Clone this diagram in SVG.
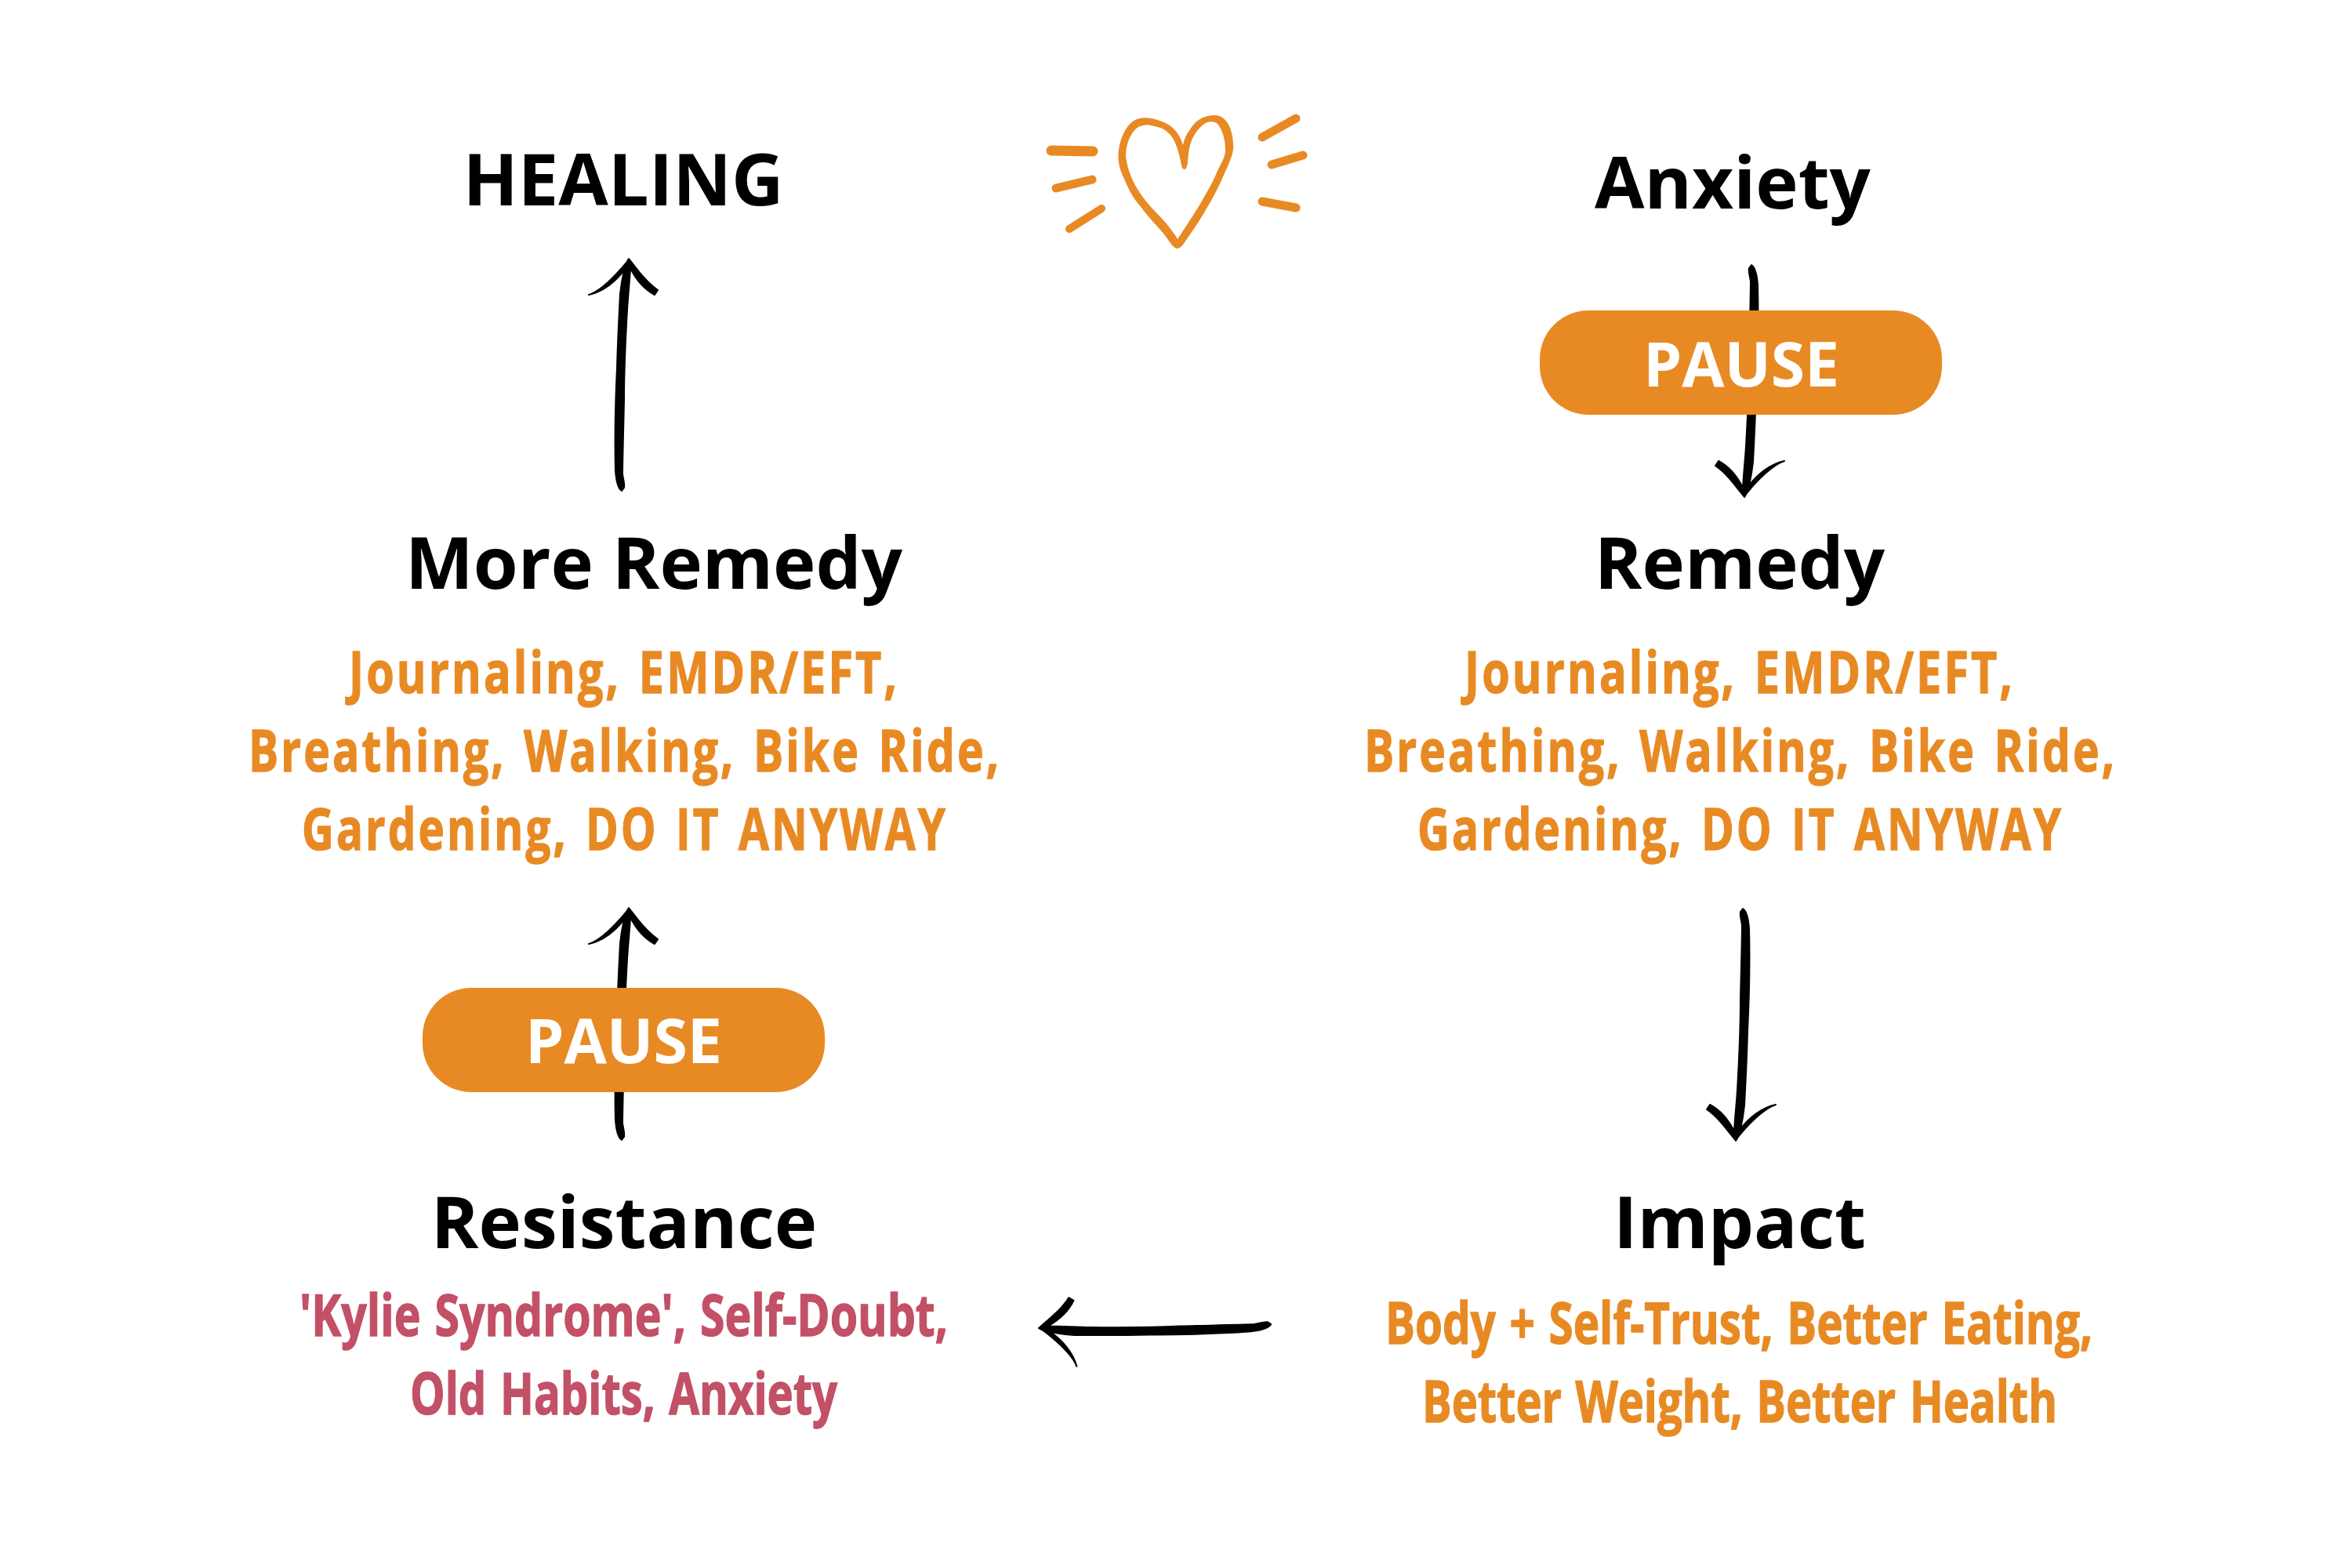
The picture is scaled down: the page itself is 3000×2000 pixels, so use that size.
<svg xmlns="http://www.w3.org/2000/svg" width="3000" height="2000" viewBox="0 0 3000 2000">
<style>
text{font-family:"Open Sans","Noto Sans",sans-serif;font-weight:700}
.h{font-size:92px;fill:#000;text-anchor:middle}
.o{font-size:73px;fill:#E88A24;stroke:#E88A24;stroke-width:1.4px}
.s{letter-spacing:4px;word-spacing:6px}
.w{word-spacing:4px}
.r{font-size:73px;fill:#C25066;stroke:#C25066;stroke-width:1.4px}
.p{font-size:78px;fill:#fff}
.pill{fill:#E88A24}
.arrow{fill:#000;stroke:#000;stroke-width:2px;stroke-linejoin:round}
.ray{fill:none;stroke:#E88A24;stroke-linecap:round}
</style>
<defs>
<path id="up" class="arrow" d="M802,330L806,335C816,348 826,361 839,370L835,376C822,369 812,358 804,342C803,360 801,378 800,395C798,430 796,470 796,510C795,555 794,590 794,605C795,612 797,617 796,622L793,626C788,623 786,615 785,600C784,560 785,510 787,470C788,430 790,395 791,375C792,365 793,358 796,345C786,358 770,372 751,376C765,372 785,352 799,335Z"/>
</defs>
<rect width="3000" height="2000" fill="#fff"/>
<g id="connectors">
<use href="#up"/>
<use href="#up" y="828"/>
<use href="#up" transform="rotate(180 1513.5 482)"/>
<use href="#up" transform="rotate(180 1508 892.5)"/>
<use href="#up" transform="translate(1326,1694) rotate(-92.7) translate(-802,-331)"/>
</g>
<g id="heart">
<path fill="#E88A24" fill-rule="evenodd" d="M1509,185C1505,172 1497,160 1482,155C1470,150 1459,149 1450,152C1438,157 1430,172 1427,190C1425,205 1428,216 1433,226C1440,243 1446,254 1456,265C1467,280 1480,292 1488,303C1494,312 1498,317 1502,317C1507,317 1512,307 1520,296C1530,282 1538,268 1546,254C1554,240 1560,225 1566,212C1571,200 1574,192 1573,183C1572,165 1565,147 1549,147C1536,147 1525,153 1518,165C1513,172 1510,178 1509,185ZM1510.5,216C1508,216 1507,212 1506,206C1504,196 1501,186 1497,178C1491,168 1484,163 1472,161C1466,159 1462,159 1458,160C1450,161 1444,168 1440,178C1436,188 1435,198 1437,206C1440,222 1448,239 1459,253C1468,265 1477,273 1485,282C1492,290 1498,298 1502,305C1507,297 1512,290 1517,282C1524,271 1530,262 1536,251C1542,241 1548,230 1552,220C1557,209 1563,200 1563,192C1563,180 1560,165 1552,157C1546,154 1540,155 1536,158C1528,164 1523,172 1520,179C1517,187 1516,193 1515.6,199C1515,206 1515,216 1510.5,216Z"/>
<path class="ray" stroke-width="13" d="M1341,192L1394,193"/>
<path class="ray" stroke-width="11" d="M1347,240L1393,229"/>
<path class="ray" stroke-width="10" d="M1364,292L1405,266"/>
<path class="ray" stroke-width="11" d="M1610,175L1653,151"/>
<path class="ray" stroke-width="11" d="M1622,210L1662,198"/>
<path class="ray" stroke-width="11" d="M1610,257L1653,265"/>
</g>
<g id="healing"><text class="h" x="795" y="262">HEALING</text></g>
<g id="anxiety"><text class="h" x="2210" y="266">Anxiety</text></g>
<g id="pause-top"><rect class="pill" x="1964" y="396" width="513" height="133" rx="62"/><text class="p" x="2096" y="493" textLength="250" lengthAdjust="spacingAndGlyphs">PAUSE</text></g>
<g id="remedy"><text class="h" x="2219" y="751">Remedy</text>
<text class="o s" x="1868" y="884" textLength="702" lengthAdjust="spacingAndGlyphs">Journaling, EMDR/EFT,</text>
<text class="o s" x="1740" y="984" textLength="960" lengthAdjust="spacingAndGlyphs">Breathing, Walking, Bike Ride,</text>
<text class="o s" x="1808" y="1084" textLength="824" lengthAdjust="spacingAndGlyphs">Gardening, DO IT ANYWAY</text></g>
<g id="more-remedy"><text class="h" x="834" y="751">More Remedy</text>
<text class="o s" x="445" y="884" textLength="702" lengthAdjust="spacingAndGlyphs">Journaling, EMDR/EFT,</text>
<text class="o s" x="317" y="984" textLength="960" lengthAdjust="spacingAndGlyphs">Breathing, Walking, Bike Ride,</text>
<text class="o s" x="385" y="1084" textLength="824" lengthAdjust="spacingAndGlyphs">Gardening, DO IT ANYWAY</text></g>
<g id="pause-bottom"><rect class="pill" x="539" y="1260" width="513" height="133" rx="62"/><text class="p" x="670" y="1356" textLength="251" lengthAdjust="spacingAndGlyphs">PAUSE</text></g>
<g id="impact"><text class="h" x="2219" y="1592">Impact</text>
<text class="o w" x="1767" y="1714" textLength="902" lengthAdjust="spacingAndGlyphs">Body + Self-Trust, Better Eating,</text>
<text class="o w" x="1814" y="1814" textLength="810" lengthAdjust="spacingAndGlyphs">Better Weight, Better Health</text></g>
<g id="resistance"><text class="h" x="796" y="1592">Resistance</text>
<text class="r w" x="382" y="1704" textLength="827" lengthAdjust="spacingAndGlyphs">'Kylie Syndrome', Self-Doubt,</text>
<text class="r w" x="523" y="1804" textLength="545" lengthAdjust="spacingAndGlyphs">Old Habits, Anxiety</text></g>
</svg>
